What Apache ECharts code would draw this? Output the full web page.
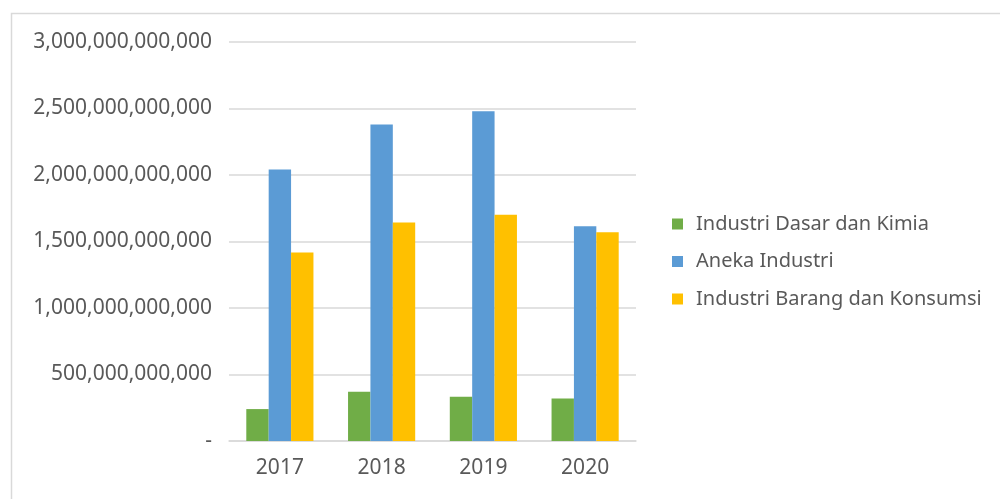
<!DOCTYPE html>
<html>
<head>
<meta charset="utf-8">
<script src="https://cdn.jsdelivr.net/npm/echarts@6/dist/echarts.min.js"></script>
<style>
  html, body { margin: 0; padding: 0; background: #ffffff; }
  #chart { width: 1000px; height: 499px; }
</style>
</head>
<body>
<div id="chart"></div>
<script>
// Years on the category axis
const years = ['2017', '2018', '2019', '2020'];

// Series names and values (Rupiah)
const seriesNames = ['Industri Dasar dan Kimia', 'Aneka Industri', 'Industri Barang dan Konsumsi'];
const dasarKimia = [240000000000, 370000000000, 333000000000, 320000000000];
const anekaIndustri = [2042000000000, 2380000000000, 2480000000000, 1614000000000];
const barangKonsumsi = [1417000000000, 1642000000000, 1702000000000, 1569000000000];

// Value axis range
const yMin = 0;
const yMax = 3000000000000;
const yStep = 500000000000;

const colors = ['#70AD47', '#5B9BD5', '#FFC000'];
const textColor = '#595959';
const gridColor = '#D9D9D9';
const font = 'Noto Sans';

const chart = echarts.init(document.getElementById('chart'), null, { renderer: 'canvas' });

function fmt(v) {
  if (v === 0) return '-';
  return v.toLocaleString('en-US');
}

const seriesData = [dasarKimia, anekaIndustri, barangKonsumsi];

chart.setOption({
  animation: false,
  backgroundColor: '#ffffff',
  color: colors,
  textStyle: { fontFamily: font },
  graphic: [{
    type: 'rect',
    shape: { x: 11.5, y: 13.5, width: 1200, height: 600 },
    style: { fill: 'none', stroke: gridColor, lineWidth: 1.5 },
    silent: true,
    z: -10
  }],
  grid: { left: 229, right: 364, top: 42, bottom: 58, containLabel: false },
  legend: {
    orient: 'vertical',
    left: 667,
    top: 208,
    icon: 'rect',
    itemWidth: 11,
    itemHeight: 11,
    itemGap: 15.5,
    textStyle: { color: textColor, fontSize: 20, fontFamily: font, lineHeight: 22, padding: [0, 0, 0, 8] },
    data: seriesNames
  },
  xAxis: {
    type: 'category',
    data: years,
    axisLine: { lineStyle: { color: gridColor, width: 1.5 } },
    axisTick: { show: false },
    axisLabel: { color: textColor, fontSize: 21, fontFamily: font, margin: 17 }
  },
  yAxis: {
    type: 'value',
    min: yMin,
    max: yMax,
    interval: yStep,
    axisLine: { show: false },
    axisTick: { show: false },
    splitLine: { lineStyle: { color: gridColor, width: 1.5 } },
    axisLabel: { color: textColor, fontSize: 21, fontFamily: font, margin: 17, formatter: fmt }
  },
  series: seriesNames.map((name, i) => ({
    name: name,
    type: 'bar',
    data: seriesData[i],
    barGap: '0%',
    barCategoryGap: '34%',
    itemStyle: { color: colors[i] }
  }))
});
</script>
</body>
</html>
